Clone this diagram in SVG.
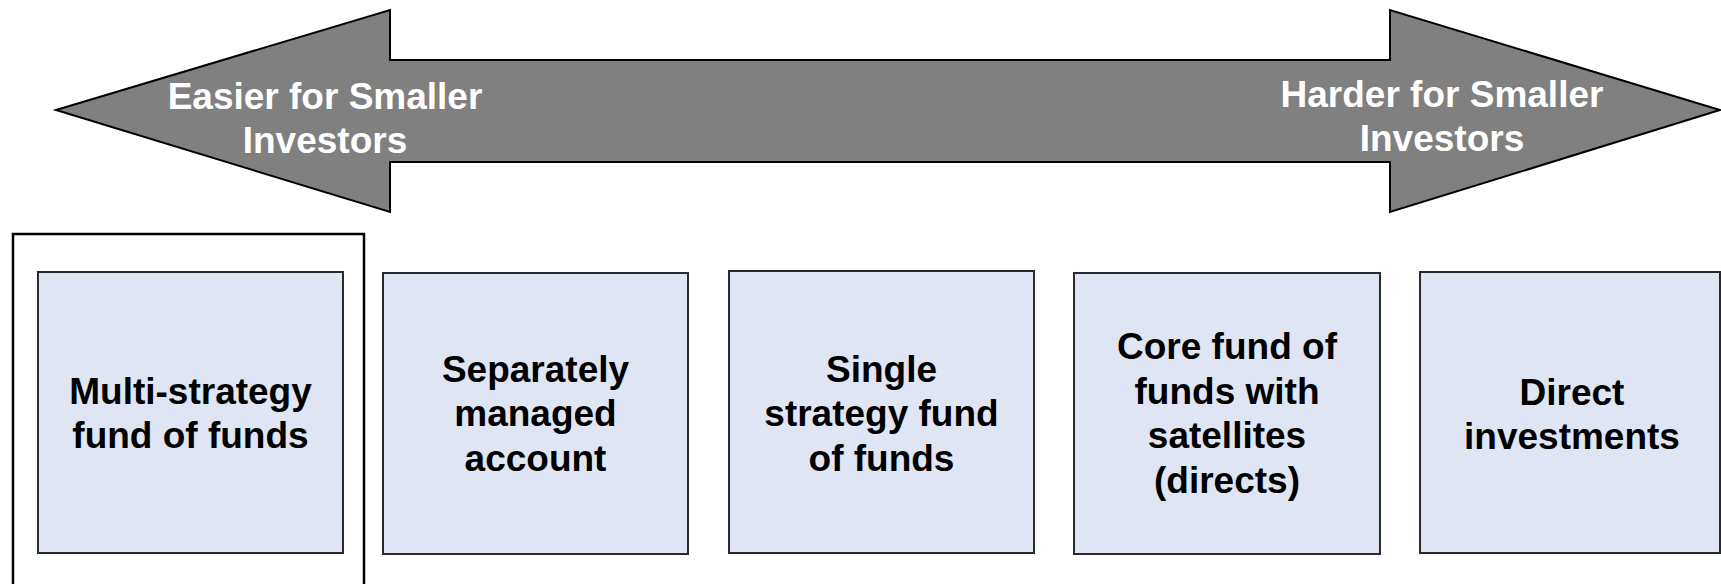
<svg xmlns="http://www.w3.org/2000/svg" width="1721" height="584" viewBox="0 0 1721 584">
  <style>
    .arrow { fill: #808080; stroke: #000; stroke-width: 2; stroke-linejoin: miter; }
    .arrow-label { font-family: "Liberation Sans", Arial, sans-serif; font-weight: bold; font-size: 37px; fill: #fff; text-anchor: middle; }
    .box { fill: #dfe5f3; stroke: #2a2a2a; stroke-width: 2; }
    .frame { fill: none; stroke: #000; stroke-width: 2.5; }
    .label { font-family: "Liberation Sans", Arial, sans-serif; font-weight: bold; font-size: 37px; fill: #000; text-anchor: middle; }
  </style>
  <rect width="1721" height="584" fill="#fff"/>

  <!-- double-headed scale arrow -->
  <g id="scale-arrow">
    <polygon class="arrow" points="56,110 390,10 390,60 1390,60 1390,10 1720,110 1390,212 1390,162 390,162 390,212"/>
    <text class="arrow-label" x="325" y="109">Easier for Smaller</text>
    <text class="arrow-label" x="325" y="153">Investors</text>
    <text class="arrow-label" x="1442" y="107">Harder for Smaller</text>
    <text class="arrow-label" x="1442" y="151">Investors</text>
  </g>

  <!-- highlight frame around the first option -->
  <g id="highlight">
    <rect class="frame" x="13" y="234" width="351" height="360"/>
  </g>

  <g id="multi-strategy">
    <rect class="box" x="38" y="272" width="305" height="281"/>
    <text class="label" x="190.5" y="404">Multi-strategy</text>
    <text class="label" x="190.5" y="448">fund of funds</text>
  </g>

  <g id="separately-managed">
    <rect class="box" x="383" y="273" width="305" height="281"/>
    <text class="label" x="535.5" y="382">Separately</text>
    <text class="label" x="535.5" y="426">managed</text>
    <text class="label" x="535.5" y="471">account</text>
  </g>

  <g id="single-strategy">
    <rect class="box" x="729" y="271" width="305" height="282"/>
    <text class="label" x="881.5" y="382">Single</text>
    <text class="label" x="881.5" y="426">strategy fund</text>
    <text class="label" x="881.5" y="471">of funds</text>
  </g>

  <g id="core-satellite">
    <rect class="box" x="1074" y="273" width="306" height="281"/>
    <text class="label" x="1227" y="359">Core fund of</text>
    <text class="label" x="1227" y="404">funds with</text>
    <text class="label" x="1227" y="448">satellites</text>
    <text class="label" x="1227" y="493">(directs)</text>
  </g>

  <g id="direct-investments">
    <rect class="box" x="1420" y="272" width="300" height="281"/>
    <text class="label" x="1572" y="405">Direct</text>
    <text class="label" x="1572" y="449">investments</text>
  </g>

  <g id="connectors"></g>
</svg>
